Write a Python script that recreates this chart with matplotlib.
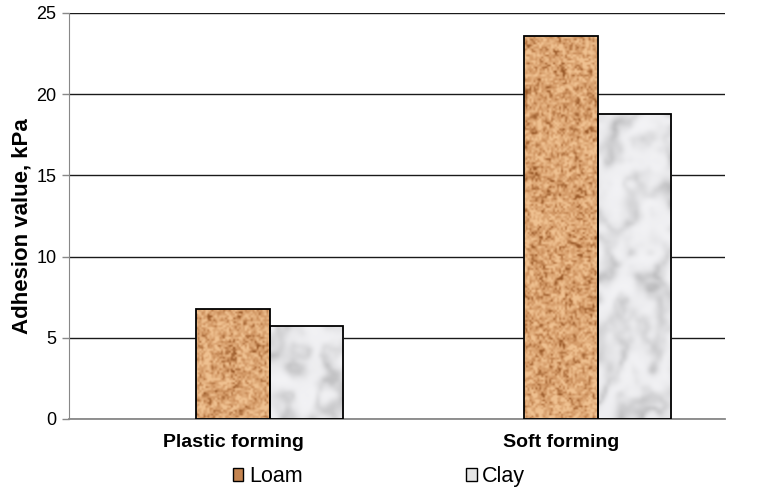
import numpy as np
import matplotlib
matplotlib.use("Agg")
import matplotlib.pyplot as plt
from matplotlib.patches import Patch

plt.rcParams['font.family'] = ['Liberation Sans', 'DejaVu Sans']

categories = ['Plastic forming', 'Soft forming']
loam = [6.8, 23.6]
clay = [5.7, 18.8]
series_names = ['Loam', 'Clay']


def smooth_noise(rng, shape, scale):
    # coarse random grid blown up with linear interpolation
    h, w = shape
    gh, gw = max(2, h // scale + 2), max(2, w // scale + 2)
    grid = rng.random((gh, gw))
    yi = np.linspace(0, gh - 1.001, h)
    xi = np.linspace(0, gw - 1.001, w)
    y0, x0 = yi.astype(int), xi.astype(int)
    fy, fx = (yi - y0)[:, None], (xi - x0)[None, :]
    a = grid[y0][:, x0]
    b = grid[y0][:, x0 + 1]
    c = grid[y0 + 1][:, x0]
    d = grid[y0 + 1][:, x0 + 1]
    return (a * (1 - fx) + b * fx) * (1 - fy) + (c * (1 - fx) + d * fx) * fy


def cork_texture(rng, h, w):
    n = 0.5 * smooth_noise(rng, (h, w), 2) + 0.3 * smooth_noise(rng, (h, w), 4) \
        + 0.2 * smooth_noise(rng, (h, w), 10)
    light = np.array([0.94, 0.76, 0.57])
    mid = np.array([0.82, 0.59, 0.39])
    dark = np.array([0.60, 0.35, 0.16])
    t = np.clip((n - 0.2) / 0.5, 0, 1)[..., None]
    lo = dark * (1 - t / 0.4) + mid * (t / 0.4)
    hi = mid * (1 - (t - 0.4) / 0.6) + light * ((t - 0.4) / 0.6)
    return np.where(t < 0.4, lo, hi).clip(0, 1)


def marble_texture(rng, h, w):
    # built at reduced size so the veins come out soft once stretched
    h2, w2 = max(h // 3, 3), max(w // 3, 3)
    yy, xx = np.mgrid[0:h2, 0:w2]
    turb = smooth_noise(rng, (h2, w2), 8) + 0.5 * smooth_noise(rng, (h2, w2), 4) \
        + 0.25 * smooth_noise(rng, (h2, w2), 2)
    v = np.abs(np.sin(xx * 0.1 + yy * 0.08 + turb * 3.0))
    veins = (1 - v) ** 1.3
    cloud = smooth_noise(rng, (h2, w2), 5)
    base = 0.965 - 0.17 * veins * (0.4 + cloud) - 0.03 * cloud
    base = np.clip(base, 0, 1)[..., None]
    return (base * np.array([0.99, 0.99, 1.0])).clip(0, 1)


fig = plt.figure(figsize=(7.64, 4.90), dpi=100)
ax = fig.add_axes([0.0903, 0.1449, 0.8586, 0.8286])

x = np.arange(len(categories))
width = 0.223
rng = np.random.default_rng(7)

bars_loam = ax.bar(x, loam, width, facecolor='none', edgecolor='black',
                   linewidth=1.3, zorder=3)
bars_clay = ax.bar(x + width, clay, width, facecolor='none', edgecolor='black',
                   linewidth=1.3, zorder=3)

for bars, maker in ((bars_loam, cork_texture), (bars_clay, marble_texture)):
    for rect in bars:
        x0, y0 = rect.get_x(), rect.get_y()
        w, h = rect.get_width(), rect.get_height()
        hp = max(int(h * 16.25), 4)
        tex = maker(rng, hp, 73)
        im = ax.imshow(tex, extent=(x0, x0 + w, y0, y0 + h), aspect='auto',
                       interpolation='bicubic', zorder=2)
        im.set_clip_path(rect)

ax.set_xlim(-0.5, 1.5)
ax.set_ylim(0, 25)
ax.set_yticks([0, 5, 10, 15, 20, 25])
ax.yaxis.grid(True, color='#1a1a1a', linewidth=1.0)
ax.set_axisbelow(True)

ax.set_xticks(x)
ax.set_xticklabels(categories, fontsize=14, fontweight='bold')
ax.tick_params(axis='x', length=0, pad=11)
ax.tick_params(axis='y', length=5, width=1, color='#888888', labelsize=13, pad=4)

for side in ('top', 'right'):
    ax.spines[side].set_visible(False)
ax.spines['left'].set_color('#888888')
ax.spines['bottom'].set_color('#888888')
ax.spines['bottom'].set_linewidth(1.3)

ax.set_ylabel('Adhesion value, kPa', fontsize=16, fontweight='bold')
ax.yaxis.set_label_coords(-0.055, 0.475)

handles = [Patch(facecolor='#c48450', edgecolor='black', linewidth=1.0),
           Patch(facecolor='#e6e6e6', edgecolor='black', linewidth=1.0)]
fig.legend(handles, series_names, loc='center', bbox_to_anchor=(0.496, 0.027),
           ncol=2, frameon=False, fontsize=15.5, handlelength=0.5, handleheight=0.5,
           handletextpad=0.25, columnspacing=7.6)

fig.savefig('out.png', dpi=100)
